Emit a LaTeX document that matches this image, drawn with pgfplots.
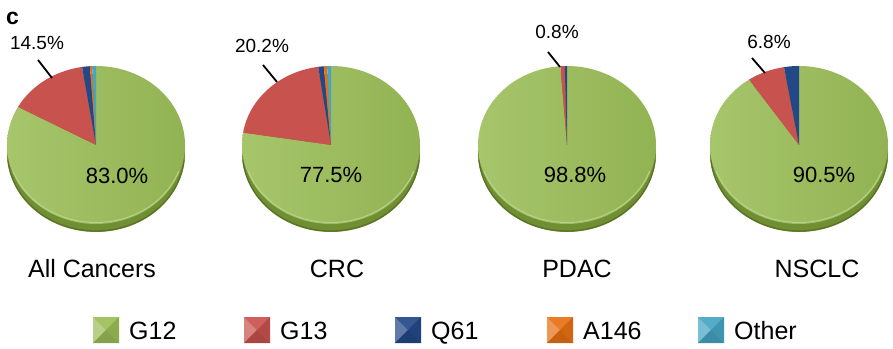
\documentclass[border=0pt]{standalone}
\usepackage{fontspec}
\setmainfont{Liberation Sans}
\usepackage{pgfplots}
\pgfplotsset{compat=1.18}
\definecolor{cG}{RGB}{155,190,88}
\definecolor{cGside}{RGB}{112,142,50}
\definecolor{cR}{RGB}{200,82,78}
\definecolor{cQ}{RGB}{35,72,135}
\definecolor{cA}{RGB}{232,112,20}
\definecolor{cO}{RGB}{70,165,195}

% slice: centre x, from %, to %, colour
\newcommand{\slice}[4]{%
  \addplot[fill=#4, draw=none, domain={90-3.6*(#3)}:{90-3.6*(#2)}, samples=90, variable=\t]
    ({#1+89*cos(\t)},{203+79*sin(\t)}) -- (axis cs:#1,203) -- cycle;}

% pie: centre x, G12, G13, Q61, A146, Other
\newcommand{\pie}[6]{%
  \addplot[fill=cGside, draw=none, domain=0:360, samples=140, variable=\t]
    ({#1+89*cos(\t)},{195+79*sin(\t)});
  \addplot[draw=cGside!80!black, line width=1.2pt, domain=185:355, samples=80, variable=\t]
    ({#1+88.5*cos(\t)},{195.5+78.5*sin(\t)});
  \addplot[left color=cG!88!white, right color=cG!94!black, draw=none,
    domain={90-3.6*(#2)}:90, samples=140, variable=\t]
    ({#1+89*cos(\t)},{203+79*sin(\t)}) -- (axis cs:#1,203) -- cycle;
  \slice{#1}{#2}{#2+#3}{cR}
  \ifdim #4pt>0pt \slice{#1}{#2+#3}{#2+#3+#4}{cQ}\fi
  \ifdim #5pt>0pt \slice{#1}{#2+#3+#4}{#2+#3+#4+#5}{cA}\fi
  \ifdim #6pt>0pt \slice{#1}{#2+#3+#4+#5}{#2+#3+#4+#5+#6}{cO}\fi
  \addplot[draw=cG!70!white, line width=1pt, domain=200:340, samples=60, variable=\t]
    ({#1+88*cos(\t)},{203.5+78*sin(\t)});
}

\newcommand{\legbox}[3]{%
  \fill[#2] (axis cs:#1,5) rectangle ++(26pt,26pt);
  \fill[#2!72!white] (axis cs:#1,5) -- ++(13pt,13pt) -- ++(-13pt,13pt) -- cycle;
  \fill[#2!85!black] (axis cs:#1,5) -- ++(13pt,13pt) -- ++(13pt,-13pt) -- cycle;
  \fill[#2!92!white] (axis cs:#1,31) -- ++(13pt,-13pt) -- ++(13pt,13pt) -- cycle;
  \fill[#2!90!black] (axis cs:#1,5) ++(26pt,0pt) -- ++(-13pt,13pt) -- ++(13pt,13pt) -- cycle;
  \node[anchor=base west, inner sep=0pt, font=\fontsize{25}{28}\selectfont] at (axis cs:#1,9) [xshift=36pt] {#3};
}

\begin{document}
\begin{tikzpicture}
\begin{axis}[width=893pt, height=348pt, scale only axis,
  xmin=0, xmax=893, ymin=0, ymax=348, hide axis, clip=false]
\path (axis cs:0,0) rectangle (axis cs:893,348);

\pie{96}{83.0}{14.5}{1.4}{0.4}{0.7}
\pie{331}{77.5}{20.2}{1.0}{0.6}{0.7}
\pie{567}{98.8}{0.8}{0.4}{0}{0}
\pie{799}{90.5}{6.8}{2.7}{0}{0}

\node[anchor=base west, inner sep=0pt, font=\bfseries\fontsize{23}{26}\selectfont] at (axis cs:6,323) {c};

% inner labels
\node[anchor=base, inner sep=0pt, font=\fontsize{22}{24}\selectfont] at (axis cs:117,164) {83.0\%};
\node[anchor=base, inner sep=0pt, font=\fontsize{22}{24}\selectfont] at (axis cs:331,165) {77.5\%};
\node[anchor=base, inner sep=0pt, font=\fontsize{22}{24}\selectfont] at (axis cs:575,165) {98.8\%};
\node[anchor=base, inner sep=0pt, font=\fontsize{22}{24}\selectfont] at (axis cs:824,165) {90.5\%};

% outer labels
\node[anchor=base, inner sep=0pt, font=\fontsize{19}{21}\selectfont] at (axis cs:37,298) {14.5\%};
\node[anchor=base, inner sep=0pt, font=\fontsize{19}{21}\selectfont] at (axis cs:262,295) {20.2\%};
\node[anchor=base, inner sep=0pt, font=\fontsize{19}{21}\selectfont] at (axis cs:557,309) {0.8\%};
\node[anchor=base, inner sep=0pt, font=\fontsize{19}{21}\selectfont] at (axis cs:769,299) {6.8\%};

\draw[line width=1.8pt] (axis cs:38,288) -- (axis cs:52,270);
\draw[line width=1.8pt] (axis cs:263,283) -- (axis cs:277,266);
\draw[line width=1.8pt] (axis cs:548,296) -- (axis cs:560,281);
\draw[line width=1.8pt] (axis cs:752,290) -- (axis cs:765,275);

% categories
\node[anchor=base, inner sep=0pt, font=\fontsize{25}{28}\selectfont] at (axis cs:92,71) {All Cancers};
\node[anchor=base, inner sep=0pt, font=\fontsize{25}{28}\selectfont] at (axis cs:337,71) {CRC};
\node[anchor=base, inner sep=0pt, font=\fontsize{25}{28}\selectfont] at (axis cs:577,71) {PDAC};
\node[anchor=base, inner sep=0pt, font=\fontsize{25}{28}\selectfont] at (axis cs:817,71) {NSCLC};

% legend
\legbox{93}{cG}{G12}
\legbox{244}{cR}{G13}
\legbox{395}{cQ}{Q61}
\legbox{547}{cA}{A146}
\legbox{698}{cO}{Other}
\end{axis}
\end{tikzpicture}
\end{document}
